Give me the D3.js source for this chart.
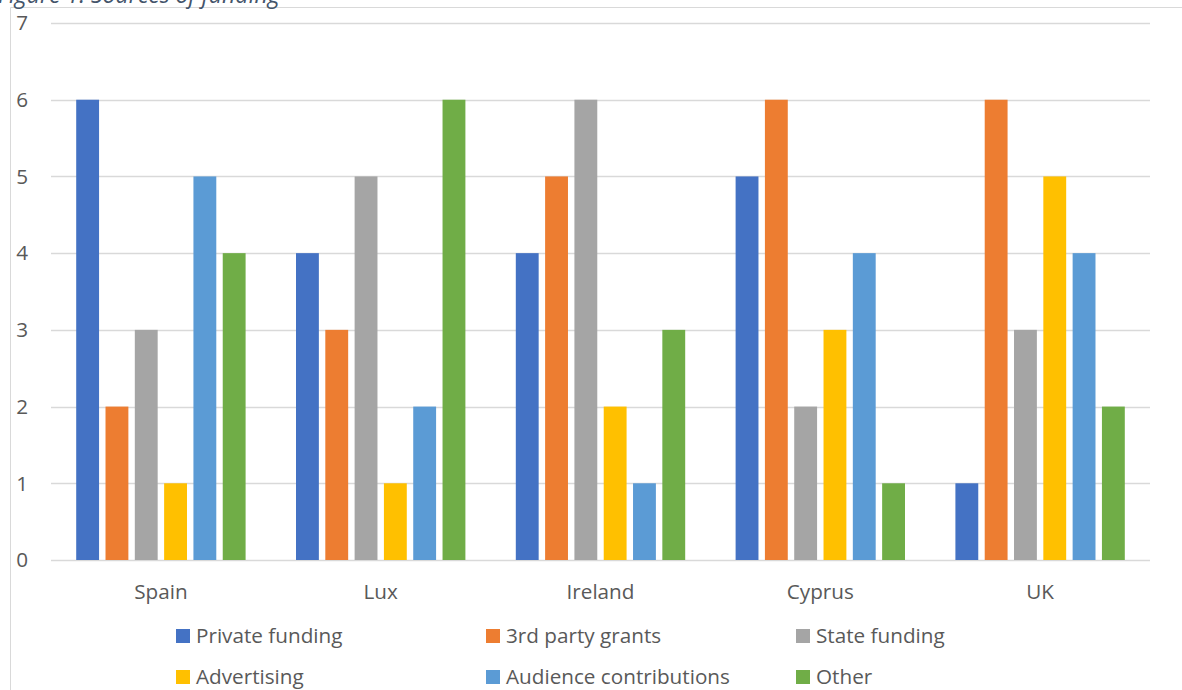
<!DOCTYPE html>
<html>
<head>
<meta charset="utf-8">
<script src="https://cdn.jsdelivr.net/npm/d3@7"></script>
<style>
  body { margin: 0; background: #fff; }
  text { font-family: 'Open Sans', sans-serif; fill: #595959; }
</style>
</head>
<body>
<script>
const countries = ['Spain', 'Lux', 'Ireland', 'Cyprus', 'UK'];
const seriesNames = ['Private funding', '3rd party grants', 'State funding', 'Advertising', 'Audience contributions', 'Other'];
const privateFunding = [6, 4, 4, 5, 1];
const thirdParty = [2, 3, 5, 6, 6];
const stateFunding = [3, 5, 6, 2, 3];
const advertising = [1, 1, 2, 3, 5];
const audience = [5, 2, 1, 4, 4];
const other = [4, 6, 3, 1, 2];
const yTicks = [0, 1, 2, 3, 4, 5, 6, 7];

const colors = ['#4472C4', '#ED7D31', '#A5A5A5', '#FFC000', '#5B9BD5', '#70AD47'];
const seriesValues = [privateFunding, thirdParty, stateFunding, advertising, audience, other];

const w = 1182;
const h = 690;
const fontSize = '20.7px';

const svg = d3.select('body').append('svg')
  .attr('width', w)
  .attr('height', h);

// chart frame (only left and top edges show)
svg.append('path')
  .attr('d', 'M10.5,' + h + 'V7.5H' + w)
  .attr('fill', 'none')
  .attr('stroke', '#D9D9D9');

// caption, cut at the top as in the source
svg.append('text')
  .attr('x', -2)
  .attr('y', 3)
  .style('font-style', 'italic')
  .style('font-size', '23px')
  .style('fill', '#44546A')
  .text('Figure 1: Sources of funding');

const x0 = d3.scaleBand()
  .domain(countries)
  .range([51, 1150]);

const x1 = d3.scaleBand()
  .domain(d3.range(seriesNames.length))
  .range([0, x0.bandwidth()])
  .paddingInner(0.22)
  .paddingOuter(0.86);

const y = d3.scaleLinear()
  .domain([0, 7])
  .range([560, 23]);

// gridlines
svg.append('g')
  .selectAll('line')
  .data(yTicks)
  .enter()
  .append('line')
  .attr('x1', 51)
  .attr('x2', 1150)
  .attr('y1', d => Math.round(y(d)) + 0.5)
  .attr('y2', d => Math.round(y(d)) + 0.5)
  .attr('stroke', '#D9D9D9')
  .attr('stroke-width', 1.3);

// y labels
svg.append('g')
  .selectAll('text')
  .data(yTicks)
  .enter()
  .append('text')
  .attr('x', 28)
  .attr('y', d => y(d))
  .attr('dy', '0.35em')
  .attr('text-anchor', 'end')
  .style('font-size', fontSize)
  .text(d => d);

// bars
const groups = svg.append('g')
  .selectAll('g')
  .data(countries)
  .enter()
  .append('g')
  .attr('transform', d => 'translate(' + x0(d) + ',0)');

groups.selectAll('rect')
  .data((d, i) => seriesValues.map((vals, s) => ({ s: s, value: vals[i] })))
  .enter()
  .append('rect')
  .attr('x', d => x1(d.s))
  .attr('y', d => y(d.value))
  .attr('width', x1.bandwidth())
  .attr('height', d => y(0) - y(d.value))
  .attr('fill', d => colors[d.s]);

// category labels
svg.append('g')
  .selectAll('text')
  .data(countries)
  .enter()
  .append('text')
  .attr('x', d => x0(d) + x0.bandwidth() / 2)
  .attr('y', 599)
  .attr('text-anchor', 'middle')
  .style('font-size', fontSize)
  .text(d => d);

// legend
const legend = svg.append('g')
  .selectAll('g')
  .data(seriesNames)
  .enter()
  .append('g')
  .attr('transform', (d, i) => 'translate(' + (176 + (i % 3) * 310) + ',' + (643 + Math.floor(i / 3) * 41) + ')');

legend.append('rect')
  .attr('x', 0)
  .attr('y', -14)
  .attr('width', 14)
  .attr('height', 14)
  .attr('fill', (d, i) => colors[i]);

legend.append('text')
  .attr('x', 20)
  .attr('y', 0)
  .style('font-size', fontSize)
  .text(d => d);
</script>
</body>
</html>
